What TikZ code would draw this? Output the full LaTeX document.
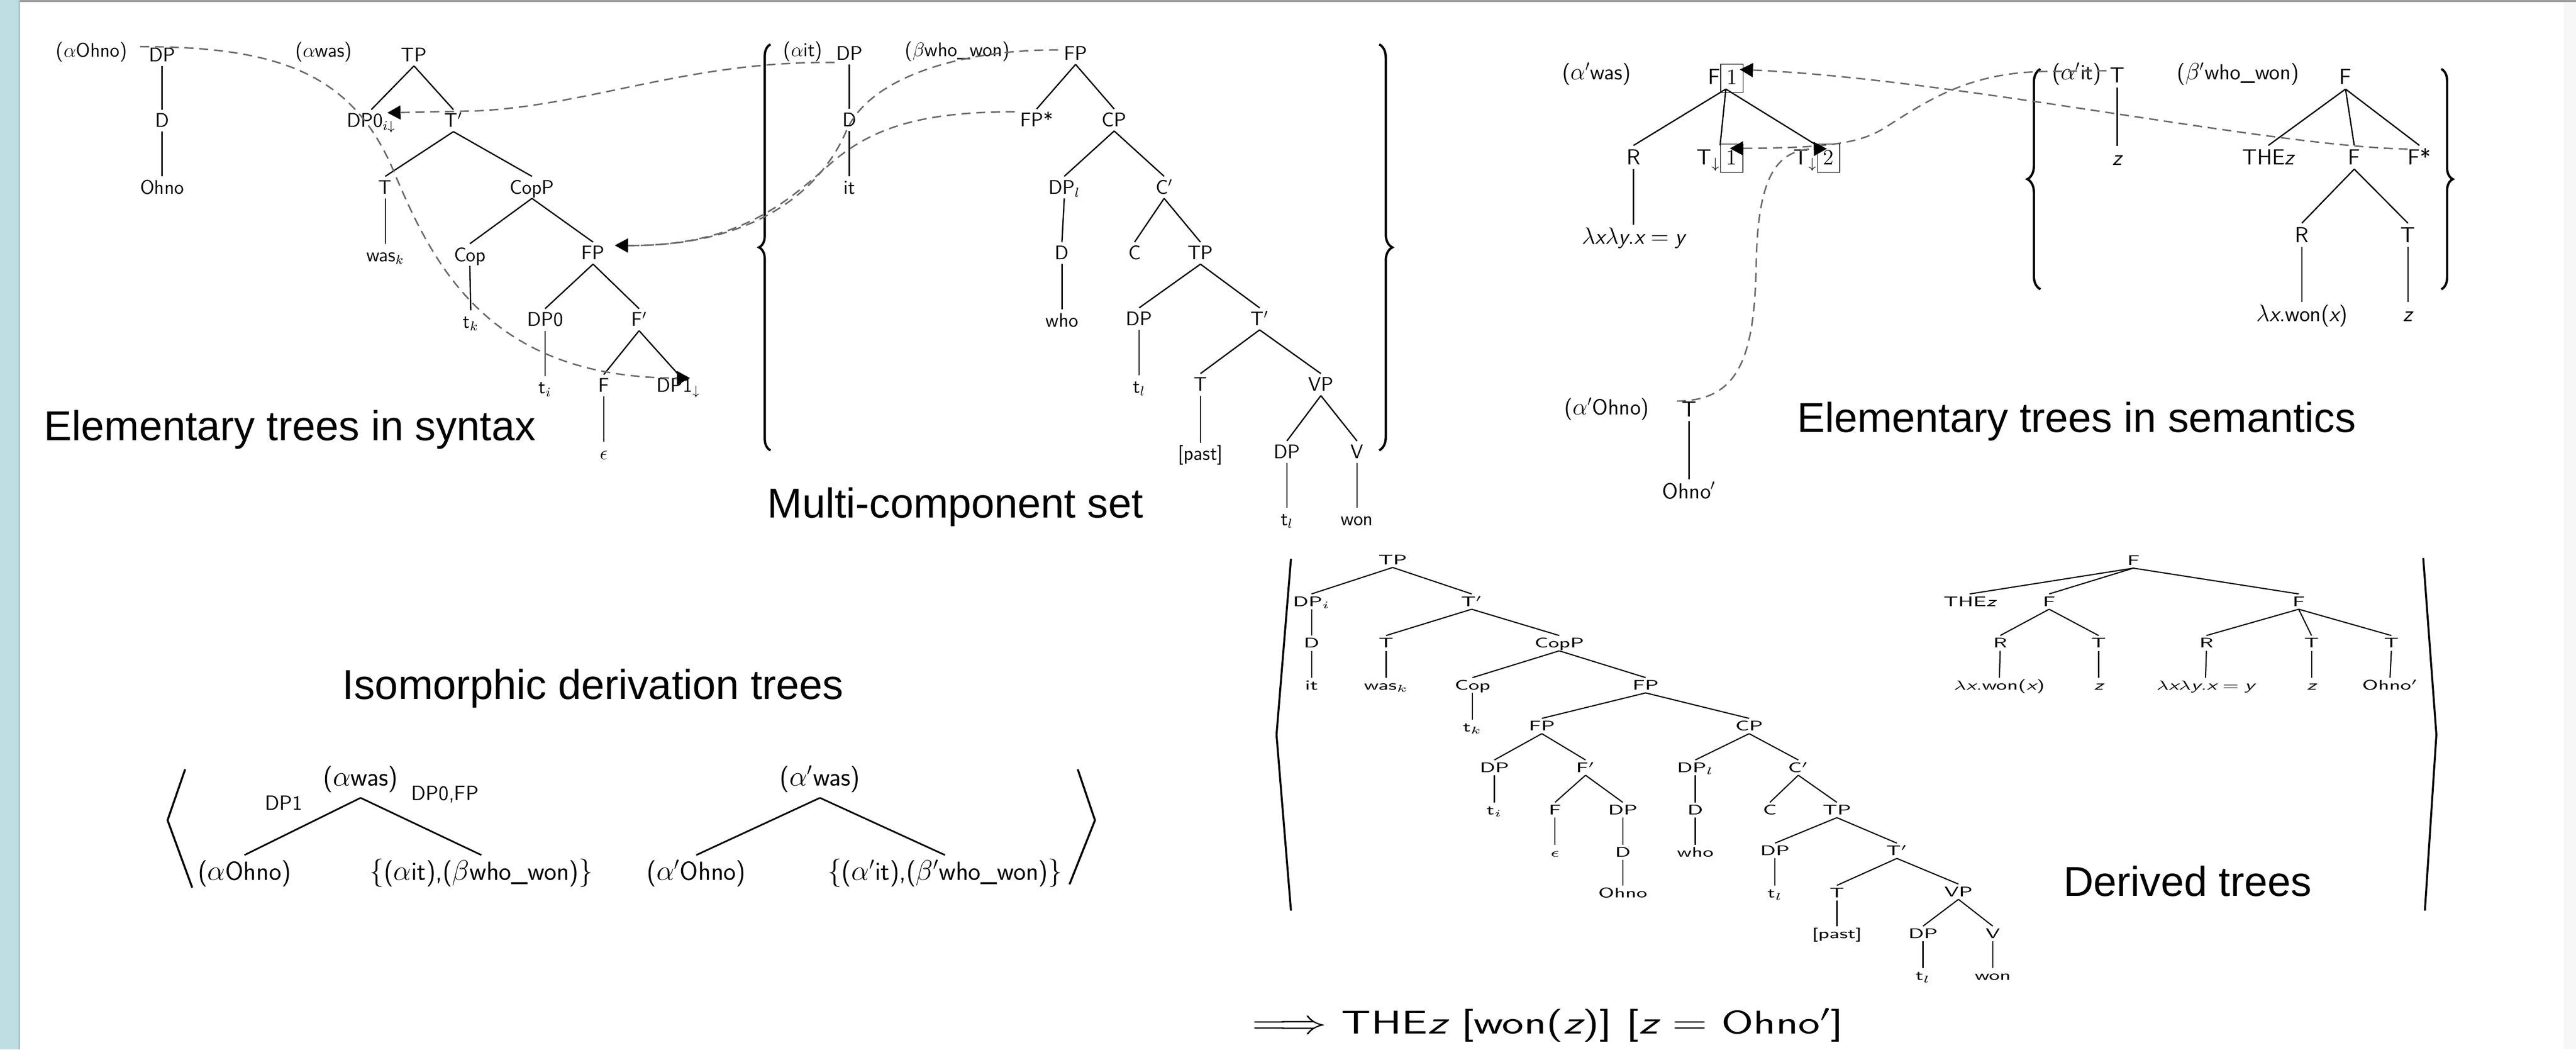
\documentclass[tikz,border=0pt]{standalone}
\usepackage{fontspec}
\usepackage{graphicx}
\usetikzlibrary{arrows.meta,decorations.pathreplacing}
\newfontfamily\titlefont{Liberation Sans}
\newcommand{\dx}[1]{\scalebox{1.5}[1]{#1}}
\newcommand{\si}[1]{{\sffamily\itshape #1}}
\newcommand{\bx}[1]{{\setlength{\fboxsep}{3.3pt}\setlength{\fboxrule}{0.5pt}\fbox{\rmfamily\rule[-1.3pt]{0pt}{10pt}#1}}}
\definecolor{bandblue}{RGB}{190,222,228}
\definecolor{bandedge}{RGB}{165,195,202}
\definecolor{congray}{RGB}{105,105,105}
\definecolor{topgray}{RGB}{160,160,160}
\tikzset{
  syn/.style={font=\fontsize{12}{14}\sffamily, inner sep=2pt, text height=8.5pt, text depth=0.5pt},
  sem/.style={font=\fontsize{13.3}{15}\sffamily, inner sep=2pt, text height=9.4pt, text depth=0.6pt},
  drv/.style={font=\fontsize{8.5}{10}\sffamily, inner sep=1.3pt, text height=6pt, text depth=0.3pt},
  dvt/.style={font=\fontsize{16}{18}\sffamily, inner sep=3pt, text height=12pt, text depth=4pt},
  elab/.style={font=\fontsize{12.5}{14}\sffamily, inner sep=1pt},
  ttl/.style={font=\fontsize{25.4}{30}\titlefont, inner sep=0pt, text height=18.2pt, text depth=0pt},
  edge/.style={line width=0.8pt},
  dedge/.style={line width=0.7pt},
  con/.style={draw=congray, line width=0.9pt, dash pattern=on 5.5pt off 3.5pt},
  tip/.style={-{Triangle[length=8pt,width=8.5pt,color=black]}},
  brc/.style={decorate, decoration={brace, amplitude=#1}, line width=1.4pt},
  ang/.style={line width=1.2pt},
}
\begin{document}
\begin{tikzpicture}[x=1pt,y=-1pt]
\useasboundingbox (0,0) rectangle (1568,638.6);
\fill[white] (0,0) rectangle (1568,638.6);
\fill[bandblue] (0,0) rectangle (11.5,638.6);
\draw[bandedge, line width=0.8pt] (11.8,0) -- (11.8,638.6);
\fill[topgray] (12.2,0) rectangle (1568,1.3);
\fill[black!3] (1560.6,1.3) rectangle (1568,638.6);

% ---------- syntax: alpha Ohno ----------
\node[syn] (lOhno) at (55.8,30.5) {($\alpha$Ohno)};
\node[syn] (oDP) at (98.7,33.4) {DP};
\node[syn] (oD) at (98.7,73.4) {D};
\node[syn] (oOhno) at (98.7,114) {Ohno};
% ---------- syntax: alpha was ----------
\node[syn] (lwas) at (197,30.5) {($\alpha$was)};
\node[syn] (wTP) at (252,33.4) {TP};
\node[syn] (wDP0) at (226,73.4) {DP0$_{i\downarrow}$};
\node[syn] (wTb) at (276,73.4) {T$'$};
\node[syn] (wT) at (234.5,114) {T};
\node[syn] (wCopP) at (323.8,114) {CopP};
\node[syn] (wwas) at (234.5,155) {was$_k$};
\node[syn] (wCop) at (286,155) {Cop};
\node[syn] (wFP) at (361,154) {FP};
\node[syn] (wtk) at (286.5,195.5) {t$_k$};
\node[syn] (wDP0b) at (331.8,194.5) {DP0};
\node[syn] (wFb) at (389,194.5) {F$'$};
\node[syn] (wti) at (331.8,235.5) {t$_i$};
\node[syn] (wF) at (367.5,234.6) {F};
\node[syn] (wDP1) at (413,234.6) {DP1$_{\downarrow}$};
\node[syn] (weps) at (367.5,275.6) {$\epsilon$};
% ---------- multi-component set ----------
\node[syn] (lait) at (488.8,30.4) {($\alpha$it)};
\node[syn] (iDP) at (517,32.5) {DP};
\node[syn] (iD) at (517,73) {D};
\node[syn] (iit) at (517,114) {it};
\node[syn] (lwho) at (582.8,30.4) {($\beta$who\_won)};
\node[syn] (bFP) at (654.7,32.5) {FP};
\node[syn] (bFPs) at (631,73) {FP*};
\node[syn] (bCP) at (678.2,73) {CP};
\node[syn] (bDPl) at (647.8,114) {DP$_l$};
\node[syn] (bCb) at (708.6,114) {C$'$};
\node[syn] (bD) at (646.4,154) {D};
\node[syn] (bC) at (690.6,154) {C};
\node[syn] (bTP) at (730.7,154) {TP};
\node[syn] (bwho) at (646.4,195) {who};
\node[syn] (bDP) at (693.4,194) {DP};
\node[syn] (bTb) at (766.7,194) {T$'$};
\node[syn] (btl) at (693.4,235) {t$_l$};
\node[syn] (bT) at (730.7,234) {T};
\node[syn] (bVP) at (804,234) {VP};
\node[syn] (bpast) at (730.7,276) {[past]};
\node[syn] (bDPb) at (783.3,275) {DP};
\node[syn] (bV) at (826,275) {V};
\node[syn] (btlb) at (783.3,315.6) {t$_l$};
\node[syn] (bwon) at (826,315.6) {won};

\foreach \a/\b in {oDP/oD, oD/oOhno, wTP/wDP0, wTP/wTb, wTb/wT, wTb/wCopP, wT/wwas, wCopP/wCop, wCopP/wFP, wCop/wtk, wFP/wDP0b, wFP/wFb, wDP0b/wti, wFb/wF, wFb/wDP1, wF/weps, iDP/iD, iD/iit, bFP/bFPs, bFP/bCP, bCP/bDPl, bCP/bCb, bDPl/bD, bD/bwho, bCb/bC, bCb/bTP, bTP/bDP, bTP/bTb, bDP/btl, bTb/bT, bTb/bVP, bT/bpast, bVP/bDPb, bVP/bV, bDPb/btlb, bV/bwon}
  \draw[edge] (\a.south) -- (\b.north);

\draw[brc=7pt] (469,274) -- (469,27);
\draw[brc=8pt] (839.5,27) -- (839.5,274);

% ---------- semantics ----------
\node[sem] (lawas) at (971.8,44) {($\alpha'$was)};
\node[sem] (sF) at (1050.5,47) {F\bx{1}};
\node[sem] (sR) at (994.3,95.7) {R};
\node[sem] (sT1) at (1047,95.7) {T$_\downarrow$\bx{1}};
\node[sem] (sT2) at (1106,95.7) {T$_\downarrow$\bx{2}};
\node[sem] (slam) at (994.3,144) {$\lambda$\si{x}$\lambda$\si{y}.\si{x}${}={}$\si{y}};
\node[sem] (laOhno) at (978,247.8) {($\alpha'$Ohno)};
\node[sem] (sOT) at (1028.2,249) {T};
\node[sem] (sOhno) at (1028.2,299) {Ohno$'$};
\node[sem] (lait2) at (1264.2,44) {($\alpha'$it)};
\node[sem] (sIT) at (1288.7,46) {T};
\node[sem] (sIz) at (1288.7,96) {\si{z}};
\node[sem] (lwho2) at (1362.3,44) {($\beta'$who\_won)};
\node[sem] (sWF) at (1427.7,47) {F};
\node[sem] (sTHE) at (1380.7,95.7) {THE\si{z}};
\node[sem] (sWF2) at (1433,95.7) {F};
\node[sem] (sWFs) at (1472.7,95.7) {F*};
\node[sem] (sWR) at (1401.1,143) {R};
\node[sem] (sWT) at (1465.7,143) {T};
\node[sem] (sWlam) at (1401.1,191) {$\lambda$\si{x}.won(\si{x})};
\node[sem] (sWz) at (1465.7,191) {\si{z}};

\foreach \a/\b in {sF/sR, sF/sT1, sF/sT2, sR/slam, sOT/sOhno, sIT/sIz, sWF/sTHE, sWF/sWF2, sWF/sWFs, sWF2/sWR, sWF2/sWT, sWR/sWlam, sWT/sWz}
  \draw[edge] (\a.south) -- (\b.north);

\draw[brc=8pt] (1242,176) -- (1242,42);
\draw[brc=7pt] (1486,42) -- (1486,176);

% ---------- derivation trees ----------
\node[dvt] (gwas) at (219.5,474.2) {($\alpha$was)};
\node[dvt] (gOhno) at (148.8,531.4) {($\alpha$Ohno)};
\node[dvt] (gset) at (293,531.4) {$\{$($\alpha$it),($\beta$who\_won)$\}$};
\node[elab] (gl1) at (172.8,488.5) {DP1};
\node[elab] (gl2) at (270.9,483.4) {DP0,FP};
\node[dvt] (g2was) at (499.1,474.2) {($\alpha'$was)};
\node[dvt] (g2Ohno) at (423.8,531.4) {($\alpha'$Ohno)};
\node[dvt] (g2set) at (575.2,531.4) {$\{$($\alpha'$it),($\beta'$who\_won)$\}$};
\foreach \a/\b in {gwas/gOhno, gwas/gset, g2was/g2Ohno, g2was/g2set}
  \draw[line width=1pt] (\a.south) -- (\b.north);
\draw[ang] (112.7,468) -- (102,499) -- (117,540);
\draw[ang] (656,468) -- (666.5,499) -- (651,538);

% ---------- derived syntax tree ----------
\node[drv] (dTP) at (847.7,340.6) {\dx{TP}};
\node[drv] (dDPi) at (798.3,366) {\dx{DP$_i$}};
\node[drv] (dTb) at (895.8,366) {\dx{T$'$}};
\node[drv] (dD) at (798.3,391.3) {\dx{D}};
\node[drv] (dT) at (843.7,391.3) {\dx{T}};
\node[drv] (dCopP) at (949.1,391.3) {\dx{CopP}};
\node[drv] (dit) at (798.3,416.9) {\dx{it}};
\node[drv] (dwas) at (843.7,416.9) {\dx{was$_k$}};
\node[drv] (dCop) at (896.3,416.9) {\dx{Cop}};
\node[drv] (dFP) at (1001.7,416.9) {\dx{FP}};
\node[drv] (dtk) at (896.3,442.3) {\dx{t$_k$}};
\node[drv] (dFPb) at (938.5,441.7) {\dx{FP}};
\node[drv] (dCP) at (1064.7,441.7) {\dx{CP}};
\node[drv] (dDP) at (909.6,467) {\dx{DP}};
\node[drv] (dFb) at (965.1,467) {\dx{F$'$}};
\node[drv] (dDPl) at (1031.9,467) {\dx{DP$_l$}};
\node[drv] (dCb) at (1094.6,467) {\dx{C$'$}};
\node[drv] (dti) at (909.6,492.8) {\dx{t$_i$}};
\node[drv] (dF) at (946.5,492.8) {\dx{F}};
\node[drv] (dDPb) at (987.8,492.8) {\dx{DP}};
\node[drv] (dDb) at (1031.9,492.8) {\dx{D}};
\node[drv] (dC) at (1077.3,492.8) {\dx{C}};
\node[drv] (dTPb) at (1118.1,492.8) {\dx{TP}};
\node[drv] (deps) at (946.5,518.5) {\dx{$\epsilon$}};
\node[drv] (dDc) at (987.8,518.5) {\dx{D}};
\node[drv] (dwho) at (1031.9,518.5) {\dx{who}};
\node[drv] (dDPc) at (1080.4,517.6) {\dx{DP}};
\node[drv] (dTbb) at (1154.6,517.6) {\dx{T$'$}};
\node[drv] (dOhno) at (987.8,543.3) {\dx{Ohno}};
\node[drv] (dtl) at (1080.4,543.3) {\dx{t$_l$}};
\node[drv] (dTc) at (1118.1,543.3) {\dx{T}};
\node[drv] (dVP) at (1192.1,542.5) {\dx{VP}};
\node[drv] (dpast) at (1118.1,568.1) {\dx{[past]}};
\node[drv] (dDPd) at (1170.5,568.1) {\dx{DP}};
\node[drv] (dV) at (1213,568.1) {\dx{V}};
\node[drv] (dtlb) at (1170.5,593.5) {\dx{t$_l$}};
\node[drv] (dwon) at (1213,593.5) {\dx{won}};
\foreach \a/\b in {dTP/dDPi, dTP/dTb, dDPi/dD, dD/dit, dTb/dT, dTb/dCopP, dT/dwas, dCopP/dCop, dCopP/dFP, dCop/dtk, dFP/dFPb, dFP/dCP, dFPb/dDP, dFPb/dFb, dDP/dti, dFb/dF, dFb/dDPb, dF/deps, dDPb/dDc, dDc/dOhno, dCP/dDPl, dCP/dCb, dDPl/dDb, dDb/dwho, dCb/dC, dCb/dTPb, dTPb/dDPc, dTPb/dTbb, dDPc/dtl, dTbb/dTc, dTbb/dVP, dTc/dpast, dVP/dDPd, dVP/dV, dDPd/dtlb, dV/dwon}
  \draw[dedge] (\a.south) -- (\b.north);

% ---------- derived semantic tree ----------
\node[drv] (eF) at (1298.6,341) {\dx{F}};
\node[drv] (eTHE) at (1198.9,366) {\dx{THE\si{z}}};
\node[drv] (eF1) at (1247.3,366) {\dx{F}};
\node[drv] (eF2) at (1399.2,366) {\dx{F}};
\node[drv] (eR1) at (1217.5,391.3) {\dx{R}};
\node[drv] (eT1) at (1277.4,391.3) {\dx{T}};
\node[drv] (eR2) at (1343,391.3) {\dx{R}};
\node[drv] (eT2) at (1407,391.3) {\dx{T}};
\node[drv] (eT3) at (1455.6,391.3) {\dx{T}};
\node[drv] (elam1) at (1217,417) {\dx{$\lambda$\si{x}.won(\si{x})}};
\node[drv] (ez1) at (1277.4,417) {\dx{\si{z}}};
\node[drv] (elam2) at (1342.5,417) {\dx{$\lambda$\si{x}$\lambda$\si{y}.\si{x}${}={}$\si{y}}};
\node[drv] (ez2) at (1407,417) {\dx{\si{z}}};
\node[drv] (eOhno) at (1454.8,417) {\dx{Ohno$'$}};
\foreach \a/\b in {eF/eTHE, eF/eF1, eF/eF2, eF1/eR1, eF1/eT1, eF2/eR2, eF2/eT2, eF2/eT3, eR1/elam1, eT1/ez1, eR2/elam2, eT2/ez2, eT3/eOhno}
  \draw[dedge] (\a.south) -- (\b.north);
\draw[ang] (785.8,340) -- (777,447) -- (785.8,554);
\draw[ang] (1475,339.5) -- (1483,447) -- (1476,554);

% ---------- titles ----------
\node[ttl] (t1) at (176.5,259) {Elementary trees in syntax};
\node[ttl] (t2) at (581.5,306) {Multi-component set};
\node[ttl] (t3) at (1264,254) {Elementary trees in semantics};
\node[ttl] (t4) at (361,416.4) {Isomorphic derivation trees};
\node[ttl] (t5) at (1331.5,536) {Derived trees};
\node[anchor=west, inner sep=0pt, text height=13.9pt, text depth=0pt, font=\fontsize{20}{23}\sffamily] (form) at (762,622) {\scalebox{1.41}[1]{$\Longrightarrow$ THE\si{z} [won(\si{z})] [\si{z} $=$ Ohno$'$]}};

% ---------- dashed connectors ----------
\draw[con,tip] ([xshift=-13.4pt,yshift=5pt]oDP.center) .. controls +(85,0) and (215,45) .. (240,105) .. controls (265,165) and (300,230) .. ([xshift=7pt,yshift=4.6pt]wDP1.center);
\draw[con,tip] ([xshift=-9pt,yshift=-5.5pt]iDP.center) .. controls +(-88,-1) and (360,64) .. (290,67.5) -- ([xshift=9.8pt,yshift=4.8pt]wDP0.center);
\draw[con,tip] ([xshift=-10.7pt,yshift=2.1pt]bFP.center) .. controls (590,30) and (530,45) .. (515,80) .. controls (500,115) and (460,150) .. ([xshift=13.3pt,yshift=4.7pt]wFP.center);
\draw[con,tip] ([xshift=-13.3pt,yshift=5pt]bFPs.center) .. controls (560,68) and (530,78) .. (505,100) .. controls (480,122) and (450,150) .. ([xshift=13.3pt,yshift=4.7pt]wFP.center);
\draw[con,tip] ([xshift=-7.2pt,yshift=5pt]sWFs.center) .. controls (1380,89) and (1190,48) .. ([xshift=8.5pt,yshift=4.7pt]sF.center);
\draw[con,tip] ([xshift=-6.5pt,yshift=3pt]sIT.center) -- (1245,43.5) .. controls (1200,44) and (1175,60) .. (1150,76) .. controls (1135,86) and (1120,90) .. ([xshift=6pt,yshift=5.4pt]sT1.center);
\draw[con,tip] ([xshift=-7.5pt,yshift=5pt]sOT.center) .. controls +(39,0) and (1068,215) .. (1069,160) .. controls (1070,110) and (1080,91) .. ([xshift=6pt,yshift=5.2pt]sT2.center);
\end{tikzpicture}
\end{document}
